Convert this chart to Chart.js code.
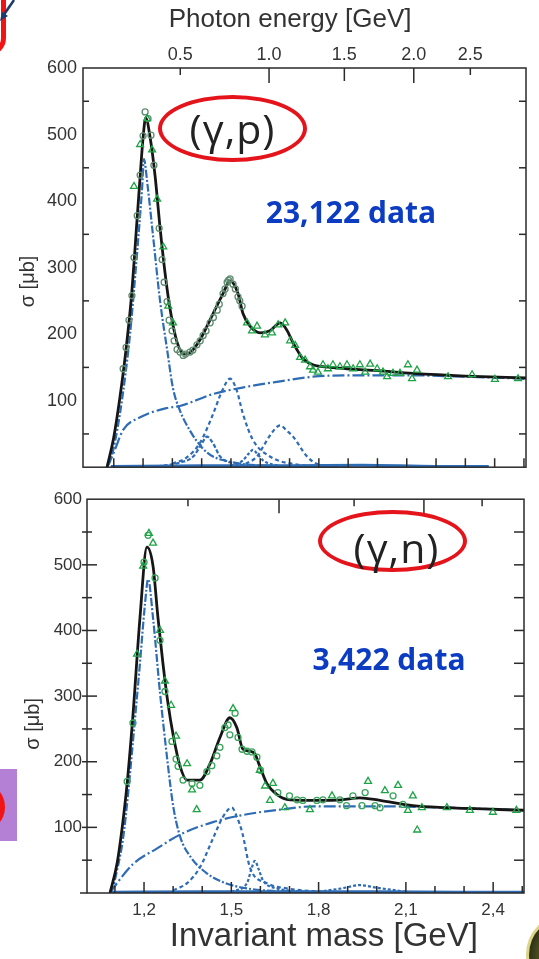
<!DOCTYPE html>
<html>
<head>
<meta charset="utf-8">
<script src="https://cdn.jsdelivr.net/npm/chart.js@4.4.1/dist/chart.umd.min.js"></script>
<style>
  body { margin: 0; width: 539px; height: 959px; position: relative; overflow: hidden; background: #fff; }
  canvas { position: absolute; left: 0; }
  #cTop { top: 0; }
  #cBot { top: 484px; }
  .ring { position: absolute; box-sizing: border-box; border: 4px solid #e5141b; border-radius: 50%;
          display: flex; align-items: center; justify-content: center; z-index: 3; }
  .react { font-family: 'Open Sans', sans-serif; font-size: 41px; color: #222; letter-spacing: 1px; line-height: 1; }
  .count { position: absolute; font-family: 'Open Sans', sans-serif; font-weight: bold; font-size: 30px;
           color: #0b3cc1; white-space: nowrap; transform: translate(-50%, -50%); z-index: 3; }
  .deco { position: absolute; z-index: 3; }
</style>
</head>
<body>
<canvas id="cTop" width="539" height="484"></canvas>
<canvas id="cBot" width="539" height="475"></canvas>

<div class="ring" style="left:158px;top:95px;width:149px;height:67px;"><span class="react">(γ,p)</span></div>
<div class="ring" style="left:318px;top:510px;width:149px;height:62px;"><span class="react" style="padding-top:12px;padding-left:8px;">(γ,n)</span></div>
<div class="count" style="left:351px;top:211px;">23,122 data</div>
<div class="count" style="left:389px;top:658px;">3,422 data</div>

<!-- bits of the slide around the figure -->
<div class="deco" style="left:-32px;top:-40px;width:38px;height:96px;border:5px solid #f01414;border-radius:18px;box-sizing:border-box;"></div>
<svg class="deco" style="left:0;top:0;" width="20" height="24">
  <line x1="14" y1="0" x2="3" y2="16" stroke="#1d3a6b" stroke-width="2.5"/>
  <polygon points="0,21 2,12 8,16" fill="#1d3a6b"/>
</svg>
<div class="deco" style="left:0;top:769px;width:17px;height:72px;background:#b380d6;"></div>
<div class="deco" style="left:-40px;top:783px;width:45px;height:48px;border:5px solid #f01414;border-radius:50%;box-sizing:border-box;"></div>
<div class="deco" style="left:526px;top:913px;width:84px;height:84px;border-radius:50%;box-sizing:border-box;border:3px solid #ddd48a;background:radial-gradient(circle, #4a4a22 55%, #2e3214 70%, #6b6a2c 85%);"></div>

<script>
// ---- shared axis values ----
const photonLabels = ['0.5', '1.0', '1.5', '2.0', '2.5'];
const topPhotonAt = [1.327, 1.630, 1.887, 2.124, 2.317];   // invariant mass under each photon tick (top panel)
const botPhotonAt = [1.351, 1.664, 1.922, 2.162, 2.362];   // same, bottom panel
const massLabels = [1.2, 1.5, 1.8, 2.1, 2.4];

// ---- (γ,p) ----
const pTotalW = [1.077, 1.10, 1.121, 1.14, 1.16, 1.18, 1.19, 1.20, 1.209, 1.224, 1.241, 1.258, 1.275, 1.292, 1.316, 1.34, 1.36, 1.395, 1.439, 1.473, 1.497, 1.524, 1.541, 1.565, 1.60, 1.633, 1.668, 1.691, 1.712, 1.746, 1.78, 1.84, 1.896, 2.0, 2.121, 2.30, 2.51];
const pTotalS = [0, 45, 105, 170, 255, 375, 437, 495, 525, 496, 438, 360, 292, 238, 188, 170, 172, 192, 231, 261, 280, 261, 231, 212, 202, 205, 217, 206, 187, 163, 154, 150, 148, 145, 141, 137, 134];
const pDeltaW = [1.077, 1.09, 1.105, 1.121, 1.14, 1.156, 1.18, 1.197, 1.203, 1.215, 1.234, 1.258, 1.282, 1.302, 1.326, 1.36, 1.40, 1.439, 1.50, 1.555, 1.65, 1.80];
const pDeltaS = [0, 12, 40, 80, 140, 202, 324, 421, 463, 425, 348, 250, 177, 119, 85, 55, 30, 16, 8, 4, 2, 1];
const pBgW = [1.077, 1.10, 1.132, 1.19, 1.282, 1.326, 1.439, 1.555, 1.668, 1.78, 1.896, 2.121, 2.30, 2.51];
const pBgS = [0, 22, 56, 75, 89, 92, 110, 121, 129, 136, 138, 138, 136, 133];
const pD13W = [1.30, 1.35, 1.395, 1.439, 1.47, 1.497, 1.52, 1.541, 1.575, 1.633, 1.726, 1.85];
const pD13S = [5, 15, 37, 80, 115, 133, 115, 80, 41, 16, 4, 1];
const pP11W = [1.25, 1.326, 1.371, 1.40, 1.418, 1.44, 1.463, 1.52, 1.60];
const pP11S = [1, 7, 16, 35, 46, 35, 16, 5, 1];
const pS11W = [1.50, 1.54, 1.56, 1.575, 1.59, 1.61, 1.66];
const pS11S = [2, 10, 20, 26, 20, 10, 2];
const pF15W = [1.55, 1.589, 1.61, 1.64, 1.668, 1.69, 1.712, 1.76, 1.80, 1.90];
const pF15S = [5, 16, 31, 52, 63, 55, 46, 16, 4, 1];
const pLowW = [1.09, 1.40, 1.70, 1.95, 2.20, 2.38];
const pLowS = [1, 2, 2, 3, 1, 1];
const pCircW = [1.132, 1.142, 1.152, 1.162, 1.169, 1.18, 1.19, 1.20, 1.207, 1.217, 1.227, 1.237, 1.255, 1.265, 1.272, 1.282, 1.289, 1.299, 1.306, 1.316, 1.326, 1.337, 1.345, 1.36, 1.37, 1.384, 1.395, 1.405, 1.415, 1.429, 1.44, 1.453, 1.46, 1.473, 1.48, 1.487, 1.492, 1.497, 1.507, 1.515, 1.524, 1.53, 1.538];
const pCircS = [148, 180, 221, 258, 315, 378, 439, 498, 534, 524, 499, 454, 359, 312, 278, 249, 221, 205, 190, 177, 173, 168, 170, 173, 176, 184, 190, 198, 205, 217, 225, 236, 245, 261, 268, 278, 281, 283, 275, 268, 256, 250, 242];
const pTriW = [1.169, 1.19, 1.214, 1.231, 1.248, 1.269, 1.286, 1.302, 1.555, 1.572, 1.589, 1.616, 1.64, 1.661, 1.685, 1.702, 1.719, 1.736, 1.753, 1.77, 1.78, 1.797, 1.814, 1.831, 1.848, 1.872, 1.896, 1.917, 1.94, 1.958, 1.975, 1.999, 2.019, 2.033, 2.053, 2.077, 2.104, 2.118, 2.135, 2.241, 2.323, 2.401, 2.48];
const pTriS = [422, 485, 524, 477, 403, 331, 242, 217, 217, 205, 212, 199, 202, 214, 217, 190, 183, 165, 161, 151, 146, 143, 154, 148, 154, 151, 154, 148, 154, 143, 155, 148, 143, 136, 141, 141, 154, 133, 146, 136, 139, 132, 133];

// ---- (γ,n) ----
const nTotalW = [1.083, 1.107, 1.125, 1.142, 1.162, 1.186, 1.21, 1.231, 1.248, 1.265, 1.282, 1.30, 1.324, 1.348, 1.392, 1.427, 1.461, 1.495, 1.519, 1.54, 1.565, 1.581, 1.598, 1.622, 1.657, 1.702, 1.805, 1.88, 1.942, 2.011, 2.124, 2.241, 2.51];
const nTotalS = [0, 44, 100, 167, 271, 419, 527, 498, 419, 350, 290, 241, 193, 172, 172, 197, 237, 267, 252, 219, 216, 212, 193, 167, 150, 142, 141, 142, 145, 141, 133, 130, 126];
const nDeltaW = [1.083, 1.093, 1.11, 1.128, 1.145, 1.162, 1.186, 1.203, 1.214, 1.231, 1.255, 1.279, 1.30, 1.324, 1.36, 1.416, 1.48, 1.554, 1.65, 1.80];
const nDeltaS = [0, 9, 40, 83, 150, 231, 350, 439, 478, 419, 305, 207, 133, 86, 55, 30, 15, 7, 3, 1];
const nBgW = [1.083, 1.107, 1.162, 1.245, 1.324, 1.437, 1.554, 1.667, 1.781, 2.011, 2.241, 2.51];
const nBgS = [0, 15, 44, 68, 89, 108, 120, 127, 132, 132, 130, 126];
const nD13W = [1.30, 1.348, 1.392, 1.437, 1.47, 1.502, 1.52, 1.537, 1.564, 1.622, 1.69, 1.80];
const nD13S = [4, 15, 39, 83, 115, 130, 115, 93, 39, 15, 7, 2];
const nS11W = [1.50, 1.554, 1.568, 1.581, 1.595, 1.609, 1.657, 1.75];
const nS11S = [2, 15, 35, 49, 35, 19, 7, 2];
const nBumpW = [1.80, 1.88, 1.942, 2.0, 2.10];
const nBumpS = [2, 7, 12, 8, 2];
const nLowW = [1.09, 1.40, 1.70, 2.00, 2.30, 2.506];
const nLowS = [1, 2, 2, 2, 1, 1];
const nCircW = [1.142, 1.162, 1.20, 1.214, 1.238, 1.255, 1.272, 1.296, 1.31, 1.317, 1.334, 1.365, 1.392, 1.416, 1.433, 1.45, 1.461, 1.478, 1.489, 1.495, 1.513, 1.523, 1.537, 1.554, 1.571, 1.588, 1.60, 1.66, 1.70, 1.726, 1.746, 1.794, 1.815, 1.873, 1.896, 1.918, 1.949, 1.96, 1.994, 2.011, 2.056, 2.09];
const nCircS = [170, 259, 504, 545, 480, 385, 307, 231, 204, 193, 172, 167, 164, 185, 194, 209, 222, 252, 256, 241, 274, 237, 219, 216, 215, 207, 187, 153, 148, 142, 141, 141, 142, 142, 133, 148, 133, 153, 133, 130, 148, 135];
const nTriW = [1.176, 1.197, 1.217, 1.231, 1.255, 1.272, 1.293, 1.31, 1.348, 1.365, 1.381, 1.506, 1.598, 1.616, 1.633, 1.643, 1.684, 1.77, 1.846, 1.97, 2.028, 2.073, 2.107, 2.124, 2.139, 2.155, 2.241, 2.32, 2.399, 2.48];
const nTriS = [364, 498, 548, 533, 400, 323, 286, 239, 197, 157, 127, 281, 187, 163, 141, 167, 130, 127, 148, 170, 156, 164, 126, 148, 96, 130, 130, 126, 123, 126];

const pts = (ws, ss) => ws.map((w, i) => ({ x: w, y: ss[i] }));

const BLUE = '#2e6cb5';
const curve = (ws, ss, dash, width) => ({
  data: pts(ws, ss), showLine: true, pointRadius: 0, borderColor: BLUE,
  borderWidth: width || 2.2, borderDash: dash, tension: 0.4, cubicInterpolationMode: 'monotone'
});
const total = (ws, ss) => ({
  data: pts(ws, ss), showLine: true, pointRadius: 0, borderColor: '#161616',
  borderWidth: 2.8, tension: 0.4, cubicInterpolationMode: 'monotone'
});
const marks = (ws, ss, style, color, r) => ({
  data: pts(ws, ss), showLine: false, pointStyle: style, pointRadius: r,
  pointBorderColor: color, pointBackgroundColor: 'rgba(255,255,255,0)', pointBorderWidth: 1.3
});

// frame plus inward ticks, as in the paper figure
const frameTicks = {
  id: 'frameTicks',
  afterDraw(chart, args, o) {
    const { ctx, chartArea: a, scales: { x, y } } = chart;
    const line = (x1, y1, x2, y2) => { ctx.beginPath(); ctx.moveTo(x1, y1); ctx.lineTo(x2, y2); ctx.stroke(); };
    ctx.save();
    ctx.strokeStyle = '#2a2a2a';
    ctx.lineWidth = 1.5;
    ctx.strokeRect(a.left, a.top, a.right - a.left, a.bottom - a.top);
    line(a.left - o.baseExt, a.bottom, a.left, a.bottom);
    for (let v = 50; v < 600; v += 50) {
      const py = y.getPixelForValue(v);
      const major = v % 100 === 0;
      if (o.leftOdd && major) continue;
      line(a.left - o.leftOut, py, a.left + (major ? o.leftMajor : o.leftMinor), py);
      line(a.right, py, a.right - o.right, py);
    }
    for (let k = 11; k <= 25; k++) {
      const px = x.getPixelForValue(k / 10);
      if (px <= a.left || px >= a.right) continue;
      const major = (k - 12) % 3 === 0;
      line(px, a.bottom, px, a.bottom - (major ? o.massMajor : o.massMinor));
    }
    o.photonAt.forEach((m, i) => {
      const px = x.getPixelForValue(m);
      line(px, a.top, px, a.top + o.photonLen[i]);
    });
    ctx.restore();
  }
};

const tickFont = size => ({ family: "'Liberation Sans', Arial, sans-serif", size: size });
// trailing blanks nudge the rotated title down to where the figure has it
const yAxis = (width, fontSize, pad, titlePad, nudge) => ({
  min: 0, max: 600,
  ticks: { stepSize: 100, color: '#333', font: tickFont(fontSize), padding: pad,
           callback: v => (v === 0 ? '' : v) },
  grid: { display: false, drawTicks: false },
  border: { display: false },
  title: { display: true, text: 'σ [μb]' + ' '.repeat(nudge), color: '#333', font: tickFont(20),
           padding: { top: titlePad, bottom: 0 } },
  afterFit: s => { s.width = width; }
});

Chart.defaults.animation = false;

new Chart(document.getElementById('cTop'), {
  type: 'scatter',
  data: {
    datasets: [
      marks(pTriW, pTriS, 'triangle', '#1fa346', 4),
      marks(pCircW, pCircS, 'circle', '#5f8c70', 3),
      total(pTotalW, pTotalS),
      curve(pDeltaW, pDeltaS, [8, 2, 2, 2]),
      curve(pBgW, pBgS, [12, 3, 2, 3]),
      curve(pD13W, pD13S, [4, 3]),
      curve(pP11W, pP11S, [4, 2]),
      curve(pS11W, pS11S, [3, 2]),
      curve(pF15W, pF15S, [4, 3]),
      curve(pLowW, pLowS, [], 3)
    ]
  },
  options: {
    responsive: false,
    layout: { padding: { left: 0, right: 13, top: 0, bottom: 6 } },
    plugins: {
      legend: { display: false },
      tooltip: { enabled: false },
      frameTicks: { photonAt: topPhotonAt, photonLen: [7, 15, 13, 15, 7], baseExt: 0, leftOut: 0,
                    leftOdd: true, leftMajor: 6, leftMinor: 6, right: 7, massMajor: 9, massMinor: 9 }
    },
    scales: {
      x: { min: 0.995, max: 2.507, display: false },
      x2: {
        type: 'linear', position: 'top', min: 0.995, max: 2.507,
        afterBuildTicks: s => { s.ticks = topPhotonAt.map(v => ({ value: v })); },
        ticks: { color: '#333', font: tickFont(18), padding: 2, maxRotation: 0, autoSkip: false,
                 callback: (v, i) => photonLabels[i] },
        grid: { display: false, drawTicks: false },
        border: { display: false },
        title: { display: true, text: 'Photon energy [GeV]    ', color: '#333', font: tickFont(26),
                 padding: { top: 4, bottom: 0 } },
        afterFit: s => { s.height = 68; }
      },
      y: yAxis(83, 18, 6, 16, 5)
    }
  },
  plugins: [frameTicks]
});

new Chart(document.getElementById('cBot'), {
  type: 'scatter',
  data: {
    datasets: [
      marks(nTriW, nTriS, 'triangle', '#1fa346', 4),
      marks(nCircW, nCircS, 'circle', '#3aa35c', 3),
      total(nTotalW, nTotalS),
      curve(nDeltaW, nDeltaS, [8, 2, 2, 2]),
      curve(nBgW, nBgS, [12, 3, 2, 3]),
      curve(nD13W, nD13S, [4, 3]),
      curve(nS11W, nS11S, [3, 2]),
      curve(nBumpW, nBumpS, [3, 2]),
      curve(nLowW, nLowS, [], 3)
    ]
  },
  options: {
    responsive: false,
    layout: { padding: { left: 0, right: 15, top: 4, bottom: 0 } },
    plugins: {
      legend: { display: false },
      tooltip: { enabled: false },
      frameTicks: { photonAt: botPhotonAt, photonLen: [7, 14, 7, 14, 7], baseExt: 7, leftOut: 5,
                    leftOdd: false, leftMajor: 10, leftMinor: 5, right: 10, massMajor: 11, massMinor: 7 }
    },
    scales: {
      x: {
        min: 1.004, max: 2.506,
        afterBuildTicks: s => { s.ticks = massLabels.map(v => ({ value: v })); },
        ticks: { color: '#333', font: tickFont(17), padding: 7, maxRotation: 0, autoSkip: false,
                 callback: v => v.toFixed(1).replace('.', ',') },
        grid: { display: false, drawTicks: false },
        border: { display: false },
        title: { display: true, text: '    Invariant mass [GeV]', color: '#333', font: tickFont(33),
                 padding: { top: 0, bottom: 2 } },
        afterFit: s => { s.height = 66; }
      },
      y: yAxis(87, 17, 5, 21, 10)
    }
  },
  plugins: [frameTicks]
});
</script>
</body>
</html>
